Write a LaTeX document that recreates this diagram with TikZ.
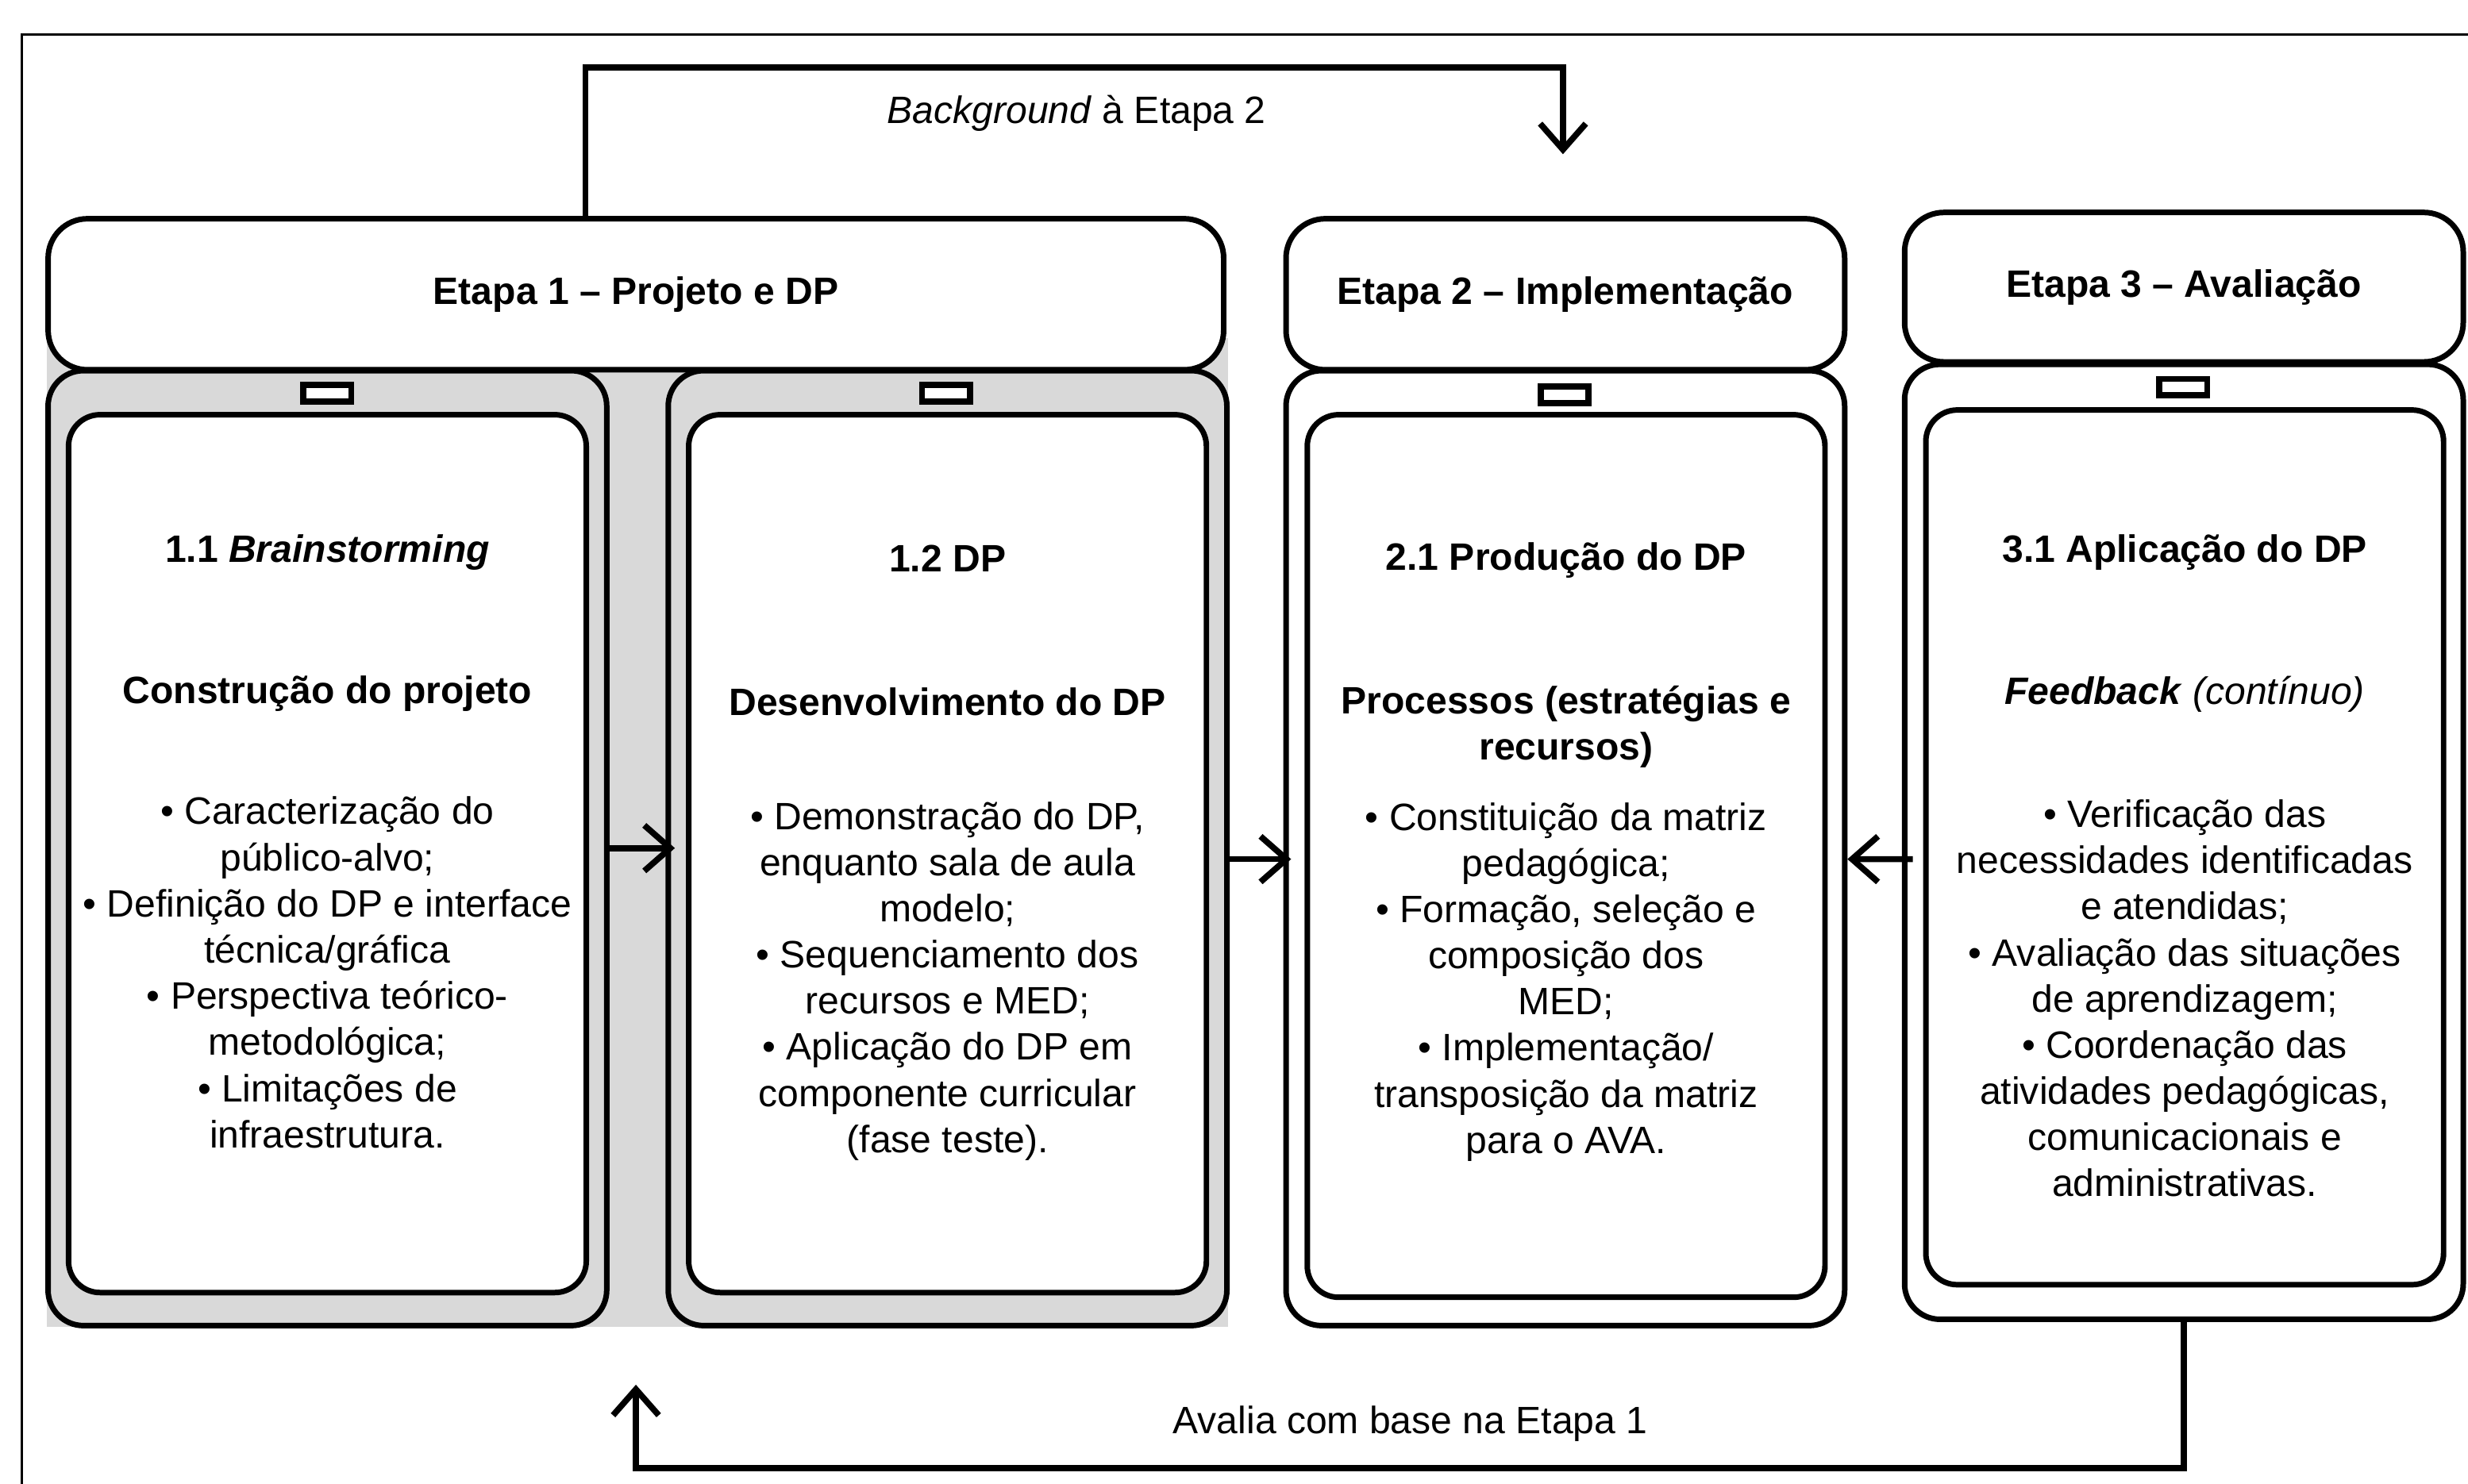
\documentclass[tikz,border=0pt]{standalone}
\usepackage{fontspec}
\setmainfont{Liberation Sans}
\usetikzlibrary{arrows.meta, positioning, calc}
\definecolor{panelgray}{RGB}{217,217,217}

\begin{document}
\begin{tikzpicture}[
        x=0.02cm, y=-0.02cm,
        font=\fontsize{13.8}{16.7}\selectfont,
        header/.style={
            rectangle, rounded corners=0.5cm, draw, line width=2pt, fill=white,
            minimum width=7.1cm, minimum height=1.92cm,
            align=center, font=\fontsize{13.8}{16.7}\selectfont\bfseries,
        },
        outerbox/.style={
            rectangle, rounded corners=0.45cm, draw, line width=2pt, fill=#1,
            minimum width=7.1cm, minimum height=12.14cm,
        },
        outerbox/.default=white,
        innerbox/.style={
            rectangle, rounded corners=0.4cm, draw, line width=2pt, fill=white,
            minimum width=6.58cm, minimum height=11.16cm,
        },
        tab/.style={
            rectangle, draw, line width=2.2pt, fill=white,
            minimum width=0.61cm, minimum height=0.21cm, inner sep=0pt,
        },
        title/.style={align=center, font=\fontsize{13.8}{16.7}\selectfont\bfseries},
        items/.style={align=center},
        conn/.style={line width=2.2pt, -{Straight Barb[length=3.3mm,width=5.8mm]}},
    ]
        \useasboundingbox (0,0) rectangle (1568,943);
        \draw[line width=0.8pt] (14,22) rectangle (1600,980);

        % grey panel behind Etapa 1
        \fill[panelgray] (30,215) rectangle (780,843);

        % outer boxes
        \node[outerbox=panelgray] (out11) at (208,539) {};
        \node[outerbox=panelgray] (out12) at (602,539) {};
        \node[outerbox] (out21) at (994.5,539) {};
        \node[outerbox] (out31) at (1387.5,535) {};

        % headers
        \node[header, minimum width=14.94cm] (head1) at (404,187) {Etapa 1 -- Projeto e DP};
        \node[header] (head2) at (994.5,187) {Etapa 2 -- Implementação};
        \node[header, minimum height=1.9cm] (head3) at (1387.5,182.5) {Etapa 3 -- Avaliação};

        % inner boxes and tabs
        \node[innerbox] (in11) at (208,542.5) {};
        \node[innerbox] (in12) at (602,542.5) {};
        \node[innerbox, minimum height=11.22cm] (in21) at (995,544) {};
        \node[innerbox, minimum height=11.12cm] (in31) at (1388,538.5) {};
        \node[tab] (tab11) at (208,250) {};
        \node[tab] (tab12) at (601,250) {};
        \node[tab] (tab21) at (994,251) {};
        \node[tab] (tab31) at (1387,246) {};

        % 1.1
        \node[title] (t11) at (208,351) {1.1 \textit{Brainstorming}};
        \node[title] (h11) at (208,441) {Construção do projeto};
        \node[items] (b11) at (208,618) {• Caracterização do\\público-alvo;\\• Definição do DP e interface\\técnica/gráfica\\• Perspectiva teórico-\\metodológica;\\• Limitações de\\infraestrutura.};

        % 1.2
        \node[title] (t12) at (602,355) {1.2 DP};
        \node[title] (h12) at (602,446) {Desenvolvimento do DP};
        \node[items] (b12) at (602,623.5) {• Demonstração do DP,\\enquanto sala de aula\\modelo;\\• Sequenciamento dos\\recursos e MED;\\• Aplicação do DP em\\componente curricular\\(fase teste).};

        % 2.1
        \node[title] (t21) at (995,356) {2.1 Produção do DP};
        \node[title] (h21) at (995,462) {Processos (estratégias e\\recursos)};
        \node[items] (b21) at (995,624) {• Constituição da matriz\\pedagógica;\\• Formação, seleção e\\composição dos\\MED;\\• Implementação/\\transposição da matriz\\para o AVA.};

        % 3.1
        \node[title] (t31) at (1388,351) {3.1 Aplicação do DP};
        \node[title] (h31) at (1388,441) {\textit{Feedback} {\mdseries\itshape(contínuo)}};
        \node[items] (b31) at (1388,634.5) {• Verificação das\\necessidades identificadas\\e atendidas;\\• Avaliação das situações\\de aprendizagem;\\• Coordenação das\\atividades pedagógicas,\\comunicacionais e\\administrativas.};

        % connectors between stages
        \draw[conn] (out11.east) -- ([xshift=0.12cm]out12.west);
        \draw[conn] ([yshift=-0.14cm]out12.east) -- ([xshift=0.1cm,yshift=-0.14cm]out21.west);
        \draw[conn] ([xshift=0.14cm,yshift=-0.22cm]out31.west) -- ([yshift=-0.14cm]out21.east);

        % feedback loops
        \coordinate (bgup) at (372,43);
        \coordinate (bgend) at (993,98);
        \draw[conn] (head1.north -| bgup) -- (bgup) -| (bgend);
        \node (bglabel) at (684,72) {\textit{Background} à Etapa 2};

        \coordinate (evturn) at (404,933);
        \coordinate (evend) at (404,880);
        \draw[conn] (out31.south) |- (evturn) -- (evend);
        \node (evlabel) at (896,905) {Avalia com base na Etapa 1};
    \end{tikzpicture}
\end{document}
